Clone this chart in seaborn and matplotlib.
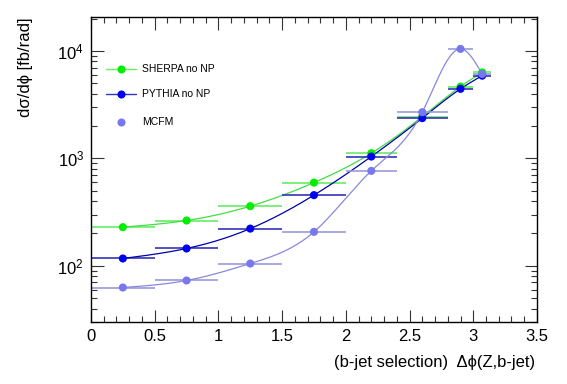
import matplotlib
matplotlib.use("Agg")
import matplotlib.pyplot as plt
import numpy as np
import seaborn as sns
from matplotlib.ticker import FuncFormatter, LogLocator, MultipleLocator

# binning in delta phi(Z, b-jet)
bin_lo = [0.0, 0.5, 1.0, 1.5, 2.0, 2.4, 2.8, 3.0]
bin_hi = [0.5, 1.0, 1.5, 2.0, 2.4, 2.8, 3.0, 3.14]
bin_x = [0.25, 0.75, 1.25, 1.75, 2.2, 2.6, 2.9, 3.07]

# dsigma/dphi [fb/rad]
sherpa = [229, 264, 359, 595, 1117, 2450, 4660, 6310]
pythia = [117, 145, 222, 455, 1040, 2370, 4440, 5890]
mcfm = [62.8, 73, 105, 207, 765, 2690, 10450, 6100]

labels = ["SHERPA no NP", "PYTHIA no NP", "MCFM"]


def smooth(x, y, n=300):
    """natural cubic spline through the points in (x, log10 y), like ROOT's 'C' option"""
    x = np.asarray(x, float)
    ly = np.log10(np.asarray(y, float))
    k = len(x)
    h = np.diff(x)
    A = np.zeros((k, k))
    b = np.zeros(k)
    A[0, 0] = A[-1, -1] = 1.0
    for i in range(1, k - 1):
        A[i, i - 1] = h[i - 1]
        A[i, i] = 2 * (h[i - 1] + h[i])
        A[i, i + 1] = h[i]
        b[i] = 3 * ((ly[i + 1] - ly[i]) / h[i] - (ly[i] - ly[i - 1]) / h[i - 1])
    c = np.linalg.solve(A, b)
    xs = np.linspace(x[0], x[-1], n)
    idx = np.clip(np.searchsorted(x, xs) - 1, 0, k - 2)
    dx = xs - x[idx]
    bb = (ly[idx + 1] - ly[idx]) / h[idx] - h[idx] * (2 * c[idx] + c[idx + 1]) / 3
    d = (c[idx + 1] - c[idx]) / (3 * h[idx])
    ys = ly[idx] + bb * dx + c[idx] * dx**2 + d * dx**3
    return xs, 10**ys


sns.set_theme(style="ticks")
plt.rcParams["font.family"] = ["Liberation Sans", "DejaVu Sans"]
plt.rcParams["mathtext.fontset"] = "custom"
plt.rcParams["mathtext.rm"] = "Liberation Sans"
for key in ["text.color", "axes.labelcolor", "xtick.color", "ytick.color"]:
    plt.rcParams[key] = "black"

fig = plt.figure(figsize=(5.67, 3.84), dpi=100)
ax = fig.add_axes([0.1605, 0.1615, 0.7865, 0.7942])

styles = [
    # marker colour, curve colour, error bar colour
    ("#00ee00", "#44dd44", "#66ee66"),
    ("#0000ee", "#0000aa", "#3333bb"),
    ("#7777ee", "#8888dd", "#9999dd"),
]

xerr = [np.subtract(bin_x, bin_lo), np.subtract(bin_hi, bin_x)]
for vals, (mc, lc, ec) in zip([sherpa, pythia, mcfm], styles):
    ax.errorbar(bin_x, vals, xerr=xerr, fmt="none", ecolor=ec, elinewidth=1.2, capsize=0)
    xs, ys = smooth(bin_x, vals)
    sns.lineplot(x=xs, y=ys, ax=ax, color=lc, lw=0.9, sort=False)
    sns.scatterplot(x=bin_x, y=vals, ax=ax, color=mc, s=34, edgecolor="none", zorder=5)

ax.set_yscale("log")
ax.set_xlim(0, 3.5)
ax.set_ylim(30, 20700)

ax.xaxis.set_major_locator(MultipleLocator(0.5))
ax.xaxis.set_minor_locator(MultipleLocator(0.1))
ax.xaxis.set_major_formatter(FuncFormatter(lambda v, pos: f"{v:g}"))
ax.yaxis.set_major_locator(LogLocator(base=10))
ax.yaxis.set_minor_locator(LogLocator(base=10, subs=np.arange(2, 10)))
ax.tick_params(which="both", direction="in", top=True, right=True, width=0.8, color="#333333")
ax.tick_params(which="major", length=9, labelsize=12, pad=5)
ax.tick_params(which="minor", length=4.5)
for s in ax.spines.values():
    s.set_linewidth(1.0)
    s.set_color("black")

ax.set_xlabel("")
ax.set_ylabel("")
fig.text(0.944, 0.043, "(b-jet selection)  \u0394\u03d5(Z,b-jet)", ha="right", va="baseline", fontsize=12)
fig.text(0.045, 0.955, "d\u03c3/d\u03d5 [fb/rad]", ha="center", va="top", rotation=90, fontsize=12)

# legend, ROOT style
leg_y = [6800, 3950, 2200]
for (mc, lc, ec), txt, ly in zip(styles, labels, leg_y):
    if txt != "MCFM":
        ax.plot([0.12, 0.35], [ly, ly], color=ec, lw=1.0)
    ax.plot([0.235], [ly], "o", color=mc, ms=5.8, mec="none")
    ax.text(0.40, ly, txt, va="center", ha="left", fontsize=7.5)

fig.savefig("out.png", dpi=100)
